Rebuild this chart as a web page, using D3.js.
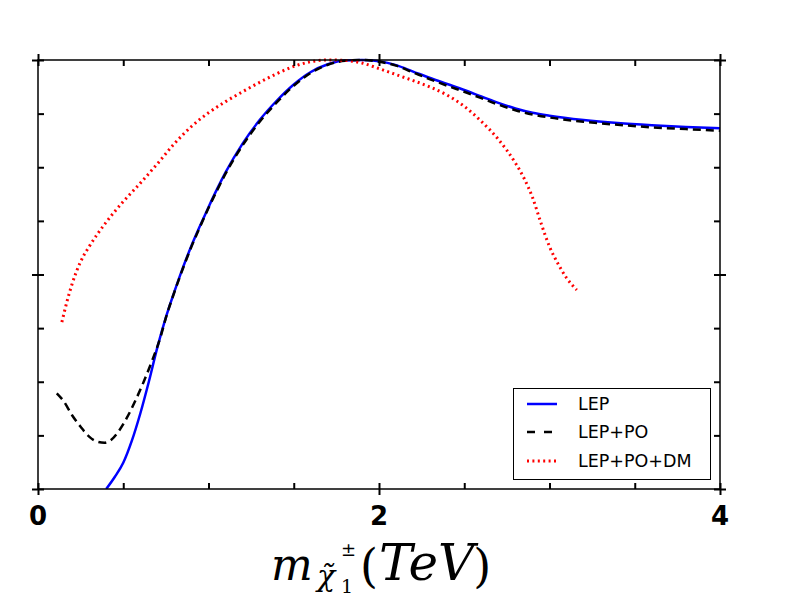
<!DOCTYPE html>
<html><head><meta charset="utf-8">
<script src="https://cdn.jsdelivr.net/npm/d3@7"></script>
<style>body{margin:0;background:#fff}</style>
</head><body>
<svg id="c" width="800" height="600"></svg>
<script>
// Data
const lepX = [0.40,0.45,0.50,0.55,0.60,0.65,0.70,0.75,0.80,0.85,0.90,0.95,1.00,1.05,1.10,1.20,1.30,1.40,1.50,1.60,1.70,1.80,1.90,2.00,2.10,2.20,2.30,2.40,2.50,2.60,2.70,2.80,2.90,3.00,3.20,3.40,3.60,3.80,4.00];
const lepY = [0.000,0.028,0.061,0.112,0.176,0.250,0.330,0.400,0.460,0.516,0.567,0.613,0.657,0.699,0.738,0.805,0.860,0.905,0.943,0.972,0.990,0.999,1.000,0.997,0.988,0.973,0.958,0.944,0.930,0.915,0.900,0.887,0.877,0.870,0.860,0.853,0.848,0.844,0.841];
const poX = [0.11,0.15,0.20,0.25,0.30,0.35,0.39,0.43,0.47,0.52,0.57,0.62,0.67,0.72,0.75,0.80,0.85,0.90,0.95,1.00,1.05,1.10,1.20,1.30,1.40,1.50,1.60,1.70,1.80,1.90,2.00,2.10,2.20,2.30,2.40,2.50,2.60,2.70,2.80,2.90,3.00,3.20,3.40,3.60,3.80,4.00];
const poY = [0.223,0.205,0.172,0.145,0.122,0.110,0.108,0.115,0.133,0.165,0.205,0.250,0.300,0.356,0.399,0.459,0.514,0.565,0.611,0.655,0.696,0.735,0.801,0.856,0.901,0.940,0.970,0.989,0.998,1.000,0.996,0.987,0.971,0.955,0.940,0.926,0.911,0.896,0.883,0.873,0.866,0.856,0.849,0.843,0.839,0.835];
const dmX = [0.14,0.17,0.20,0.25,0.30,0.35,0.40,0.50,0.60,0.70,0.80,0.90,1.00,1.10,1.20,1.30,1.40,1.50,1.60,1.70,1.80,1.90,2.00,2.10,2.20,2.30,2.40,2.50,2.60,2.70,2.80,2.85,2.90,2.95,3.00,3.05,3.10,3.16];
const dmY = [0.389,0.437,0.478,0.530,0.565,0.595,0.622,0.670,0.713,0.758,0.805,0.845,0.877,0.903,0.926,0.948,0.968,0.985,0.996,1.000,0.999,0.993,0.980,0.966,0.952,0.937,0.918,0.892,0.857,0.815,0.760,0.725,0.680,0.620,0.565,0.525,0.492,0.464];
const xTicksMajor = [0,2,4];
const xTicksMinor = [0.5,1,1.5,2.5,3,3.5];
const yTicksMajor = [0,0.5,1];
const yTicksMinor = [0.125,0.25,0.375,0.625,0.75,0.875];
const seriesNames = ["LEP","LEP+PO","LEP+PO+DM"];

const svg = d3.select("#c");
const L=38,R=720,T=60,B=489;
const x = d3.scaleLinear().domain([0,4]).range([L,R]);
const y = d3.scaleLinear().domain([0,1]).range([B,T]);

svg.append("clipPath").attr("id","pc").append("rect").attr("x",L).attr("y",T-3).attr("width",R-L).attr("height",B-T+3);

const line = d3.line().x(d=>x(d[0])).y(d=>y(d[1])).curve(d3.curveMonotoneX);
const styles = [
  {c:"#0000ff", dash:null, w:2.5},
  {c:"#000000", dash:"8,5", w:2.5},
  {c:"#ff0000", dash:"2,3.4", w:3}
];
const data = [d3.zip(lepX,lepY), d3.zip(poX,poY), d3.zip(dmX,dmY)];
const pg = svg.append("g").attr("clip-path","url(#pc)");
[0,1,2].forEach(i=>{
  pg.append("path").datum(data[i]).attr("d",line).attr("fill","none")
    .attr("stroke",styles[i].c).attr("stroke-width",styles[i].w)
    .attr("stroke-dasharray",styles[i].dash);
});

// Frame
svg.append("rect").attr("x",L).attr("y",T).attr("width",R-L).attr("height",B-T)
  .attr("fill","none").attr("stroke","#000").attr("stroke-width",1.5);

// Axes: major ticks (in+out), minor (inside)
function tickStyle(sel){ sel.select(".domain").remove(); sel.selectAll("line").attr("stroke","#000").attr("stroke-width",2); sel.selectAll("text").remove(); }
function ax(gen, tx, ty, vals){
  const s = svg.append("g").attr("transform",`translate(${tx},${ty})`).call(gen.tickValues(vals).tickSizeInner(6).tickSizeOuter(0));
  tickStyle(s);
}
const allX = xTicksMajor.concat(xTicksMinor), allY = yTicksMajor.concat(yTicksMinor);
ax(d3.axisBottom(x),0,B,xTicksMajor); ax(d3.axisTop(x),0,B,allX);
ax(d3.axisTop(x),0,T,xTicksMajor);    ax(d3.axisBottom(x),0,T,allX);
ax(d3.axisLeft(y),L,0,yTicksMajor);   ax(d3.axisRight(y),L,0,allY);
ax(d3.axisRight(y),R,0,yTicksMajor);  ax(d3.axisLeft(y),R,0,allY);

// X tick labels
svg.append("g").selectAll("text").data(xTicksMajor).join("text")
  .attr("x",d=>x(d)).attr("y",525).attr("text-anchor","middle")
  .attr("font-family","DejaVu Sans").attr("font-weight","bold").attr("font-size",26)
  .text(d=>d);

// X label (math)
const ml = svg.append("g").attr("font-family","DejaVu Serif").attr("fill","#000");
ml.append("text").attr("x",271).attr("y",580).attr("font-style","italic").attr("font-size",44).text("m");
ml.append("text").attr("x",317).attr("y",586).attr("font-style","italic").attr("font-size",30).text("χ\u0303");
ml.append("text").attr("x",341).attr("y",556).attr("font-size",18).text("±");
ml.append("text").attr("x",341).attr("y",593).attr("font-size",19).text("1");
const tv = ml.append("text").attr("x",360).attr("y",582).attr("font-size",46);
tv.append("tspan").text("(");
tv.append("tspan").attr("dx",1).attr("font-style","italic").attr("font-size",50).attr("dy",-2).text("TeV");
tv.append("tspan").attr("dx",-1).attr("dy",2).text(")");

// Legend
const lg = svg.append("g");
lg.append("rect").attr("x",513.5).attr("y",388.5).attr("width",197).attr("height",91)
  .attr("fill","#fff").attr("stroke","#000").attr("stroke-width",1);
const ly = [404,432,461];
[0,1,2].forEach(i=>{
  lg.append("line").attr("x1",527).attr("x2",557).attr("y1",ly[i]).attr("y2",ly[i])
    .attr("stroke",styles[i].c).attr("stroke-width",styles[i].w)
    .attr("stroke-dasharray", i==1 ? "8,9" : styles[i].dash);
  lg.append("text").attr("x",578).attr("y",ly[i]+6).attr("font-family","DejaVu Sans")
    .attr("font-size",17.5).text(seriesNames[i]);
});
</script>
</body></html>
